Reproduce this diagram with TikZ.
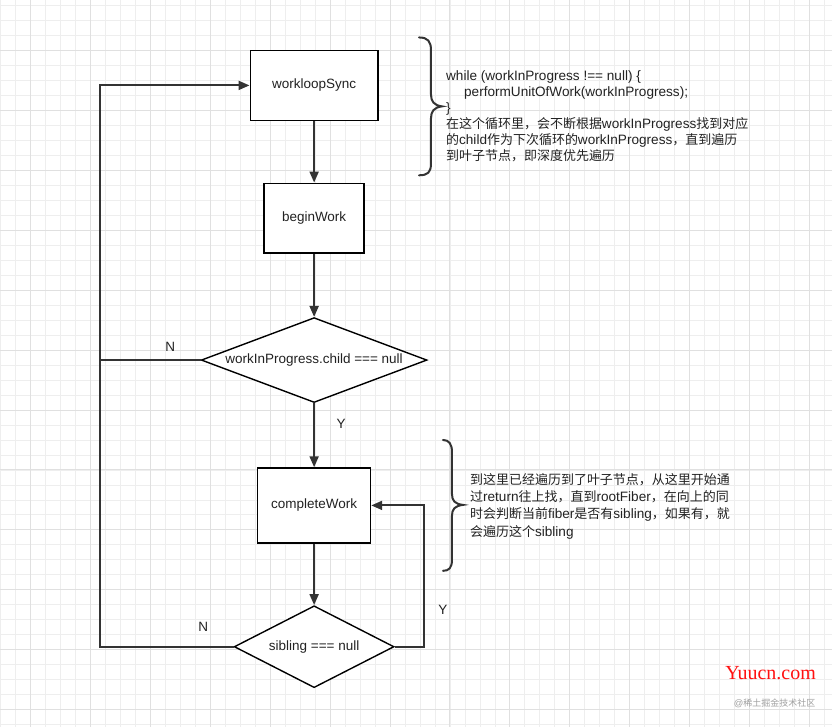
\documentclass[tikz,border=0pt]{standalone}
\usepackage{fontspec}
\setmainfont{Liberation Sans}
\newfontfamily\cjk[Scale=0.956]{Noto Sans CJK SC}
\newfontfamily\wmserif{Liberation Serif}
\usetikzlibrary{arrows.meta,shapes.geometric}
\definecolor{gridminor}{HTML}{EEEEEE}
\definecolor{gridmajor}{HTML}{E0E0E0}
\definecolor{linec}{HTML}{333333}
\definecolor{textc}{HTML}{222222}
\definecolor{wmred}{HTML}{FF1010}
\definecolor{wmgray}{HTML}{A0A0A0}
\begin{document}
\begin{tikzpicture}[x=1pt,y=-1pt,
  box/.style={draw=black,line width=1.4pt,fill=white,rectangle,inner sep=0pt,font=\fontsize{13.5}{16}\selectfont,text=textc},
  dia/.style={draw=black,line width=1.4pt,fill=white,diamond,inner sep=0pt,font=\fontsize{13.5}{16}\selectfont,text=textc},
  conn/.style={draw=linec,line width=2pt,-{Triangle[length=11pt,width=9pt]}},
  plain/.style={draw=linec,line width=2pt},
  lbl/.style={font=\fontsize{13.5}{16}\selectfont,text=textc,inner sep=0pt},
  brace/.style={draw=linec,line width=2pt,line cap=round},
  note/.style={font=\fontsize{13.6}{16.1}\selectfont,text=textc,align=left,inner sep=0pt,anchor=north west}]
\fill[white] (0,0) rectangle (832,727);
\foreach \x in {0,15,...,825} \draw[gridminor,line width=0.8pt] (\x,0) -- (\x,727);
\foreach \y in {5,20,...,725} \draw[gridminor,line width=0.8pt] (0,\y) -- (832,\y);
\foreach \x in {30,90,...,810} \draw[gridmajor,line width=1pt] (\x,0) -- (\x,727);
\foreach \y in {50,110,...,710} \draw[gridmajor,line width=1pt] (0,\y) -- (832,\y);
\useasboundingbox (0,0) rectangle (832,727);

\node[box,minimum width=128pt,minimum height=70pt] (wls) at (314,85) {workloopSync};
\node[box,minimum width=100pt,minimum height=70pt] (bw) at (314,218) {beginWork};
\node[dia,aspect=2.66,minimum width=226pt,minimum height=85pt] (d1) at (314,360) {workInProgress.child === null};
\node[box,minimum width=113pt,minimum height=75pt] (cw) at (314,505.5) {completeWork};
\node[dia,aspect=1.95,minimum width=160pt,minimum height=82pt] (d2) at (314,647) {sibling === null};

\coordinate (lx) at (100,0);
\coordinate (rx) at (424,0);

\draw[conn] (wls) -- (bw);
\draw[conn] (bw) -- (d1);
\draw[conn] (d1) -- (cw);
\draw[conn] (cw) -- (d2);
\draw[conn] (d1.west) -- (d1.west -| lx) -- (lx |- wls.west) -- (wls.west);
\draw[plain] (d2.west) -- (d2.west -| lx) -- (lx |- d1.west);
\draw[conn] (d2.east) -- (rx |- d2.east) -- (rx |- cw.east) -- (cw.east);

\node[lbl] (n1) at (170,347) {N};
\node[lbl] (y1) at (341,424) {Y};
\node[lbl] (y2) at (443,610) {Y};
\node[lbl] (n2) at (203,627) {N};

\draw[brace] (419,37) .. controls (428,37) and (431,41) .. (431,50) -- (431,94)
  .. controls (431,101) and (434,105) .. (442,106)
  .. controls (434,107) and (431,111) .. (431,118) -- (431,163)
  .. controls (431,172) and (428,175) .. (419,175);
\draw[brace] (443,440) .. controls (449,440) and (452,444) .. (452,452) -- (452,494)
  .. controls (452,501) and (455,504) .. (463,505)
  .. controls (455,506) and (452,509) .. (452,516) -- (452,560)
  .. controls (452,568) and (449,571) .. (443,571);

\node[note] (t1) at (446,70) {while (workInProgress !== null) \{\\
\hspace*{18pt}performUnitOfWork(workInProgress);\\
\}\\
{\cjk 在这个循环里，会不断根据}workInProgress{\cjk 找到对应}\\
{\cjk 的}child{\cjk 作为下次循环的}workInProgress{\cjk ，直到遍历}\\
{\cjk 到叶子节点，即深度优先遍历}};

\node[note,font=\fontsize{13.6}{17.4}\selectfont] (t2) at (470,473) {{\cjk 到这里已经遍历到了叶子节点，从这里开始通}\\
{\cjk 过}return{\cjk 往上找，直到}rootFiber{\cjk ，在向上的同}\\
{\cjk 时会判断当前}fiber{\cjk 是否有}sibling{\cjk ，如果有，就}\\
{\cjk 会遍历这个}sibling};

\node[inner sep=0pt,text=wmred,font=\wmserif\fontsize{20}{22}\selectfont] (wm1) at (771,673) {Yuucn.com};
\node[inner sep=0pt,text=wmgray,font=\fontsize{9.4}{10}\selectfont] (wm2) at (775,704) {@{\cjk 稀土掘金技术社区}};
\end{tikzpicture}
\end{document}
